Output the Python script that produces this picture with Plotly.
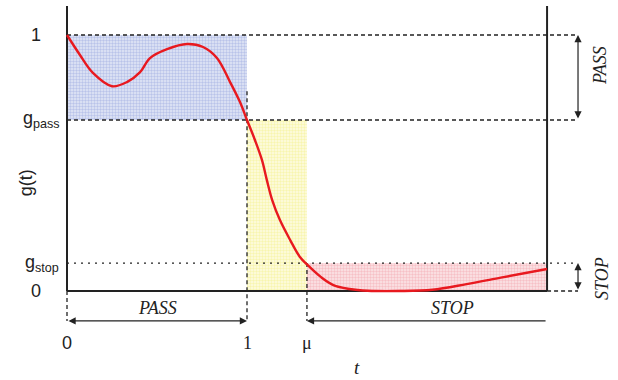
import plotly.graph_objects as go

# ---- data ----
t_curve = [0.0, 0.072, 0.144, 0.25, 0.333, 0.406, 0.461, 0.556, 0.667, 0.756, 0.833, 0.906, 0.961, 1.00,
           1.044, 1.083, 1.11, 1.14, 1.183, 1.24, 1.294, 1.339, 1.41, 1.48, 1.57, 1.67, 1.85, 2.03, 2.22, 2.41, 2.667]
g_curve = [1.0, 0.922, 0.852, 0.80, 0.816, 0.855, 0.91, 0.945, 0.965, 0.953, 0.91, 0.816, 0.738, 0.668,
           0.59, 0.512, 0.434, 0.355, 0.277, 0.199, 0.133, 0.10, 0.055, 0.023, 0.008, 0.001, 0.0, 0.005, 0.027, 0.052, 0.086]

g_pass = 0.668
g_stop = 0.109
mu = 1.333
t_end = 2.667
y_top = 1.113
x_ann = 2.839      # right-hand bracket arrows
y_arrow = -0.117   # bottom bracket arrows

ytick_vals = [0, g_stop, g_pass, 1]
ytick_text = ["0", "g<sub>stop</sub>", "g<sub>pass</sub>", "1"]
xtick_vals = [0, 1, mu]
xtick_text = ["0", "1", "μ"]

fig = go.Figure()

# shaded regions
def rect(x0, x1, y0, y1, fg, bg):
    fig.add_trace(go.Scatter(
        x=[x0, x1, x1, x0, x0], y=[y0, y0, y1, y1, y0], mode="lines",
        line=dict(width=0), fill="toself", fillcolor=bg,
        fillpattern=dict(shape=".", size=3, solidity=0.5, fgcolor=fg, bgcolor=bg),
        hoverinfo="skip", showlegend=False))

rect(0, 1, g_pass, 1, "#8e9edc", "#e4e8f6")
rect(1, mu, 0, g_pass, "#f2ee7a", "#fdfce4")
rect(mu, t_end, 0, g_stop, "#f09aa4", "#fce6e8")

def seg(xs, ys, dash="solid", width=1.3, color="#222222"):
    fig.add_trace(go.Scatter(x=xs, y=ys, mode="lines",
                             line=dict(color=color, width=width, dash=dash),
                             hoverinfo="skip", showlegend=False))

# reference lines
seg([0, x_ann], [1, 1], dash="4px,3px")
seg([0, x_ann], [g_pass, g_pass], dash="4px,3px")
seg([0, x_ann], [g_stop, g_stop], dash="2px,5px")
seg([t_end, x_ann], [0, 0], dash="4px,3px")
seg([1, 1], [0.78, y_arrow], dash="4px,3px")
seg([0, 0], [0, y_arrow], dash="4px,3px")
seg([mu, mu], [g_stop, y_arrow], dash="4px,3px")

# axes frame
seg([0, 0], [0, y_top], width=2)
seg([t_end, t_end], [0, y_top], width=2)
seg([0, t_end], [0, 0], width=2)

# curve
fig.add_trace(go.Scatter(x=t_curve, y=g_curve, mode="lines",
                         line=dict(color="#e8191f", width=2.4, shape="spline", smoothing=1.0),
                         hoverinfo="skip", showlegend=False))

anns = []
def arrow(x0, y0, x1, y1, both=True):
    anns.append(dict(x=x1, y=y1, ax=x0, ay=y0, xref="x", yref="y", axref="x", ayref="y",
                     text="", showarrow=True, arrowhead=2, arrowsize=1.2, arrowwidth=1.2,
                     arrowcolor="#222222", arrowside="end+start" if both else "end",
                     startarrowhead=2, startarrowsize=1.2))

arrow(0, y_arrow, 1, y_arrow)
arrow(t_end, y_arrow, mu, y_arrow, both=False)
arrow(x_ann, g_pass, x_ann, 1)
arrow(x_ann, 0, x_ann, g_stop)

serif_it = dict(family="Liberation Serif", size=18, color="#222222")
anns.append(dict(x=0.5, y=-0.066, text="<i>PASS</i>", showarrow=False, font=serif_it))
anns.append(dict(x=2.139, y=-0.066, text="<i>STOP</i>", showarrow=False, font=serif_it))
anns.append(dict(x=2.961, y=0.883, text="<i>PASS</i>", showarrow=False, font=serif_it, textangle=-90))
anns.append(dict(x=2.972, y=0.051, text="<i>STOP</i>", showarrow=False, font=serif_it, textangle=-90))
anns.append(dict(x=1.611, y=-0.30, text="<i>t</i>", showarrow=False,
                 font=dict(family="Liberation Serif", size=19, color="#222222")))

sans = dict(family="Liberation Sans", size=18, color="#222222")
anns.append(dict(x=-0.228, y=0.425, text="g(t)", showarrow=False, font=sans, textangle=-90))

# y tick labels
ytick_xpos = [-0.17, -0.14, -0.14, -0.17]
for v, s, xp in zip(ytick_vals, ytick_text, ytick_xpos):
    anns.append(dict(x=xp, y=v, text=s, showarrow=False, font=sans))
# x tick labels
xtick_fonts = [sans, dict(family="Liberation Serif", size=18, color="#222222"),
               dict(family="Liberation Serif", size=18, color="#222222")]
for v, s, f in zip(xtick_vals, xtick_text, xtick_fonts):
    anns.append(dict(x=v, y=-0.203, text=s, showarrow=False, font=f))

fig.update_layout(
    width=618, height=380, margin=dict(l=0, r=0, t=0, b=0),
    plot_bgcolor="white", paper_bgcolor="white",
    xaxis=dict(range=[-67/180, 551/180], visible=False),
    yaxis=dict(range=[-89/256, 291/256], visible=False),
    annotations=anns, showlegend=False)

fig.write_html("out.html")
